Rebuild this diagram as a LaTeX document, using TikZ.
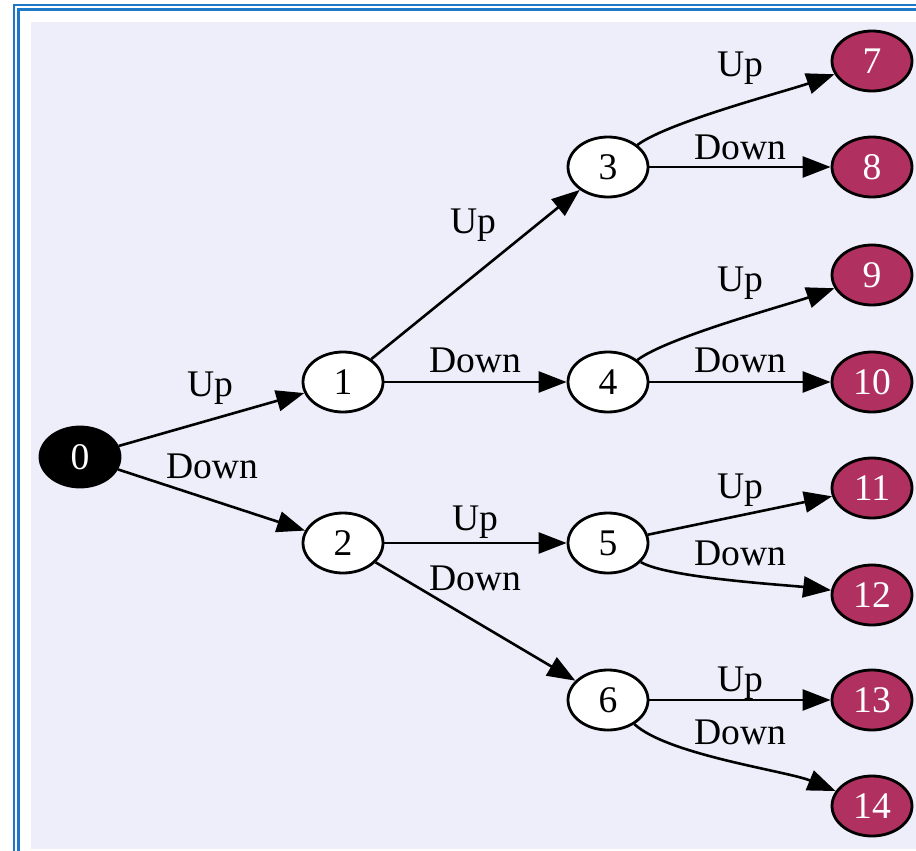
\documentclass[tikz,border=0pt]{standalone}
\usepackage{fontspec}
\setmainfont{Liberation Serif}
\usetikzlibrary{arrows.meta,shapes.geometric}
\definecolor{bgc}{RGB}{238,238,251}
\definecolor{leafc}{RGB}{176,48,96}
\definecolor{framec}{RGB}{30,120,200}
\begin{document}
\begin{tikzpicture}[x=0.5pt,y=-0.5pt,
  txt/.style={font=\fontsize{18.8}{22}\selectfont},
  nd/.style={ellipse,draw=black,line width=1.4pt,fill=white,minimum width=40pt,minimum height=30pt,inner sep=0pt,txt},
  root/.style={nd,fill=black,text=white},
  leaf/.style={nd,fill=leafc,text=white},
  lbl/.style={txt,inner sep=1pt},
  edge/.style={line width=1.3pt,-{Triangle[length=14pt,width=10.5pt]}}]
\useasboundingbox (0,0) rectangle (916,851);
\fill[white] (0,0) rectangle (916,851);
\fill[bgc] (31,22) rectangle (916,849);
\draw[framec,line width=1.1pt] (14,851) -- (14,5) -- (916,5);
\draw[framec,line width=1.1pt] (18.5,851) -- (18.5,9.5) -- (916,9.5);

\node[root] (n0) at (80,457) {0};
\node[nd] (n1) at (343,382) {1};
\node[nd] (n2) at (343,543) {2};
\node[nd] (n3) at (608,167) {3};
\node[nd] (n4) at (608,382) {4};
\node[nd] (n5) at (608,543) {5};
\node[nd] (n6) at (608,700) {6};
\node[leaf] (n7) at (872,61) {7};
\node[leaf] (n8) at (872,167) {8};
\node[leaf] (n9) at (872,275) {9};
\node[leaf] (n10) at (872,382) {10};
\node[leaf] (n11) at (872,488) {11};
\node[leaf] (n12) at (872,595) {12};
\node[leaf] (n13) at (872,700) {13};
\node[leaf] (n14) at (872,806) {14};

\draw[edge] (n0) -- (n1);
\draw[edge] (n0) -- (n2);
\draw[edge] (n1) -- (n3);
\draw[edge] (n1) -- (n4);
\draw[edge] (n2) -- (n5);
\draw[edge] (n2) -- (n6);
\draw[edge] (n3) .. controls +(60,-45) and +(-85,30) .. (n7);
\draw[edge] (n3) -- (n8);
\draw[edge] (n4) .. controls +(60,-45) and +(-85,30) .. (n9);
\draw[edge] (n4) -- (n10);
\draw[edge] (n5) -- (n11);
\draw[edge] (n5) .. controls +(60,35) and +(-85,-10) .. (n12);
\draw[edge] (n6) -- (n13);
\draw[edge] (n6) .. controls +(60,55) and +(-85,-35) .. (n14);

\node[lbl] (l01) at (210,388) {Up};
\node[lbl] (l02) at (212,466) {Down};
\node[lbl] (l13) at (473,225) {Up};
\node[lbl] (l14) at (475,360) {Down};
\node[lbl] (l25) at (475,522) {Up};
\node[lbl] (l26) at (475,578) {Down};
\node[lbl] (l37) at (740,68) {Up};
\node[lbl] (l38) at (740,147) {Down};
\node[lbl] (l49) at (740,283) {Up};
\node[lbl] (l410) at (740,360) {Down};
\node[lbl] (l511) at (740,490) {Up};
\node[lbl] (l512) at (740,553) {Down};
\node[lbl] (l613) at (740,683) {Up};
\node[lbl] (l614) at (740,732) {Down};
\end{tikzpicture}
\end{document}
